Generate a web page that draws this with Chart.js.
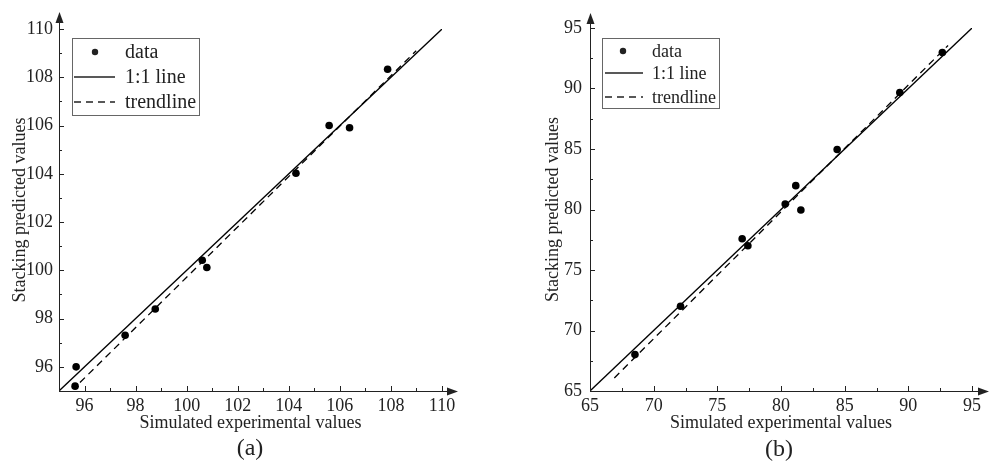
<!DOCTYPE html>
<html>
<head>
<meta charset="utf-8">
<script src="https://cdn.jsdelivr.net/npm/chart.js@4/dist/chart.umd.min.js"></script>
<style>
  body { margin: 0; background: #fff; width: 990px; height: 473px; overflow: hidden; position: relative; font-family: "Liberation Serif", serif; color: #222; }
  .box { position: absolute; top: 0; width: 490px; height: 473px; }
  #boxA { left: 0; }
  #boxB { left: 500px; }
  .cap { position: absolute; font-size: 24px; transform: translate(-50%, -50%); white-space: nowrap; }
</style>
</head>
<body>
<div class="box" id="boxA"><canvas id="chartA"></canvas></div>
<div class="box" id="boxB"><canvas id="chartB"></canvas></div>
<div class="cap" style="left:250px;top:447px">(a)</div>
<div class="cap" style="left:779px;top:448px">(b)</div>
<script>
// panel (a)
const simA = [95.67, 95.63, 97.59, 98.77, 100.61, 100.79, 104.28, 105.58, 106.38, 107.87];
const predA = [96.0, 95.2, 97.31, 98.40, 100.42, 100.12, 104.02, 106.0, 105.91, 108.33];
const trendAX = [95.82, 108.99];
const trendAY = [95.35, 109.1];
const ticksA = [96, 98, 100, 102, 104, 106, 108, 110];

// panel (b)
const simB = [68.53, 72.11, 76.95, 77.40, 80.33, 81.16, 81.56, 84.41, 89.33, 92.67];
const predB = [68.01, 72.01, 77.58, 77.0, 80.46, 81.97, 79.96, 84.96, 89.67, 92.98];
const trendBX = [66.91, 93.12];
const trendBY = [66.08, 93.56];
const ticksB = [65, 70, 75, 80, 85, 90, 95];

const FONT = "'Liberation Serif', 'Times New Roman', serif";
const INK = '#222';

// axis lines with arrows and inward ticks (major + minor)
const axesPlugin = {
  id: 'axesPlugin',
  afterDraw(chart, args, opts) {
    const { ctx, chartArea: ca } = chart;
    const sx = chart.scales.x, sy = chart.scales.y;
    ctx.save();
    ctx.strokeStyle = INK;
    ctx.fillStyle = INK;
    ctx.lineWidth = 1;
    ctx.beginPath();
    ctx.moveTo(ca.left, ca.bottom + 0.5);
    ctx.lineTo(opts.tipX - 8, ca.bottom + 0.5);
    ctx.moveTo(ca.left + 0.5, ca.bottom);
    ctx.lineTo(ca.left + 0.5, opts.tipY + 8);
    ctx.stroke();
    // arrowheads
    ctx.beginPath();
    ctx.moveTo(opts.tipX, ca.bottom + 0.5);
    ctx.lineTo(opts.tipX - 11, ca.bottom - 3.5);
    ctx.lineTo(opts.tipX - 11, ca.bottom + 4.5);
    ctx.closePath();
    ctx.fill();
    ctx.beginPath();
    ctx.moveTo(ca.left + 0.5, opts.tipY);
    ctx.lineTo(ca.left - 3.5, opts.tipY + 11);
    ctx.lineTo(ca.left + 4.5, opts.tipY + 11);
    ctx.closePath();
    ctx.fill();
    // ticks
    ctx.beginPath();
    for (let v = sx.min; v <= sx.max + 1e-9; v += opts.minor) {
      const isMajor = opts.ticks.some(t => Math.abs(t - v) < 1e-6);
      const len = isMajor ? 5 : 3;
      const px = Math.round(sx.getPixelForValue(v)) + 0.5;
      if (v === sx.min) continue;
      ctx.moveTo(px, ca.bottom);
      ctx.lineTo(px, ca.bottom - len);
    }
    for (let v = sy.min; v <= sy.max + 1e-9; v += opts.minor) {
      const isMajor = opts.ticks.some(t => Math.abs(t - v) < 1e-6);
      const len = isMajor ? 5 : 3;
      const py = Math.round(sy.getPixelForValue(v)) + 0.5;
      if (v === sy.min) continue;
      ctx.moveTo(ca.left, py);
      ctx.lineTo(ca.left + len, py);
    }
    ctx.stroke();
    ctx.restore();
  }
};

// boxed legend inside the plot
const boxLegend = {
  id: 'boxLegend',
  afterDraw(chart, args, o) {
    const { ctx } = chart;
    ctx.save();
    ctx.strokeStyle = '#666';
    ctx.lineWidth = 1;
    ctx.fillStyle = '#fff';
    ctx.fillRect(o.x, o.y, o.w, o.h);
    ctx.strokeRect(o.x + 0.5, o.y + 0.5, o.w, o.h);
    ctx.font = o.size + 'px ' + FONT;
    ctx.textBaseline = 'middle';
    ctx.fillStyle = INK;
    ctx.strokeStyle = INK;
    chart.data.datasets.forEach((ds, i) => {
      const y = o.rows[i];
      if (ds.showLine) {
        ctx.lineWidth = 1.4;
        ctx.setLineDash(ds.borderDash || []);
        ctx.beginPath();
        ctx.moveTo(o.lx0, y);
        ctx.lineTo(o.lx1, y);
        ctx.stroke();
        ctx.setLineDash([]);
      } else {
        ctx.beginPath();
        ctx.arc(o.mx, y, 3.2, 0, Math.PI * 2);
        ctx.fill();
      }
      ctx.fillText(ds.label, o.tx, y + 1);
    });
    ctx.restore();
  }
};

function makeChart(id, p) {
  const pts = p.sim.map((v, i) => ({ x: v, y: p.pred[i] }));
  const lo = p.ticks[0] <= p.min ? p.min : p.min;
  return new Chart(document.getElementById(id), {
    type: 'scatter',
    data: {
      datasets: [
        { label: 'data', data: pts, pointRadius: 3.8, pointHoverRadius: 3.8, backgroundColor: '#000', borderWidth: 0, clip: false },
        { label: '1:1 line', data: [{ x: lo, y: lo }, { x: p.max, y: p.max }], showLine: true, pointRadius: 0, borderColor: '#000', borderWidth: 1.3 },
        { label: 'trendline', data: p.tx.map((v, i) => ({ x: v, y: p.ty[i] })), showLine: true, pointRadius: 0, borderColor: '#000', borderWidth: 1.3, borderDash: [7, 5] }
      ]
    },
    options: {
      responsive: true,
      maintainAspectRatio: false,
      animation: false,
      events: [],
      layout: { padding: { top: p.padTop, right: p.padRight, left: 0, bottom: 0 } },
      scales: {
        x: {
          type: 'linear', min: p.min, max: p.max,
          afterBuildTicks: s => { s.ticks = p.ticks.map(v => ({ value: v })); },
          afterFit: s => { s.height = p.xh; },
          grid: { display: false, drawTicks: false },
          border: { display: false },
          ticks: { font: { family: FONT, size: 18 }, color: INK, padding: 4, maxRotation: 0 },
          title: { display: true, text: 'Simulated experimental values', font: { family: FONT, size: 18 }, color: INK, padding: { top: 0, bottom: p.xTitlePad } }
        },
        y: {
          type: 'linear', min: p.min, max: p.max,
          afterBuildTicks: s => { s.ticks = p.ticks.map(v => ({ value: v })); },
          afterFit: s => { s.width = p.yw; },
          grid: { display: false, drawTicks: false },
          border: { display: false },
          ticks: { font: { family: FONT, size: 18 }, color: INK, padding: p.yTickPad },
          title: { display: true, text: 'Stacking predicted values', font: { family: FONT, size: 18 }, color: INK, padding: { top: p.yTitlePad, bottom: 0 } }
        }
      },
      plugins: {
        legend: { display: false },
        tooltip: { enabled: false },
        axesPlugin: { tipX: p.tipX, tipY: p.tipY, minor: p.minor, ticks: p.ticks },
        boxLegend: p.legend
      }
    },
    plugins: [axesPlugin, boxLegend]
  });
}

makeChart('chartA', {
  sim: simA, pred: predA, tx: trendAX, ty: trendAY, ticks: ticksA,
  min: 95, max: 110, minor: 1,
  padTop: 29, padRight: 48, xh: 82, yw: 59,
  xTitlePad: 39, yTitlePad: 9, yTickPad: 6,
  tipX: 458, tipY: 12,
  legend: { x: 72, y: 38, w: 127, h: 77, rows: [52, 77, 102], lx0: 74, lx1: 115, mx: 95, tx: 125, size: 20 }
});

makeChart('chartB', {
  sim: simB, pred: predB, tx: trendBX, ty: trendBY, ticks: ticksB,
  min: 65, max: 95, minor: 2.5,
  padTop: 28, padRight: 18, xh: 82, yw: 90,
  xTitlePad: 39, yTitlePad: 42, yTickPad: 8,
  tipX: 489, tipY: 13,
  legend: { x: 102, y: 38, w: 117, h: 70, rows: [51, 73, 97], lx0: 105, lx1: 143, mx: 123, tx: 152, size: 18 }
});
</script>
</body>
</html>
